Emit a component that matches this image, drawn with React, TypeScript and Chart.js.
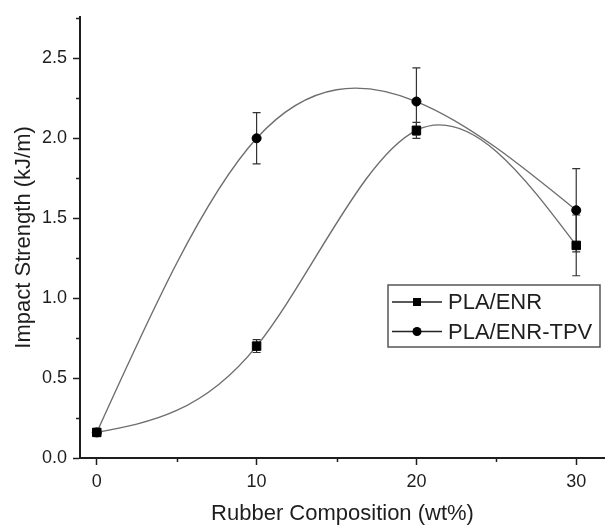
import React, { useEffect, useRef } from "react";
import { Chart, registerables } from "chart.js";

Chart.register(...registerables);

const compositions = [0, 10, 20, 30];
const enrValues = [0.16, 0.7, 2.05, 1.33];
const enrErrors = [0.02, 0.04, 0.05, 0.19];
const tpvValues = [0.16, 2.0, 2.23, 1.55];
const tpvErrors = [0.02, 0.16, 0.21, 0.26];
const seriesLabels = ["PLA/ENR", "PLA/ENR-TPV"];
const xMajorTicks = [0, 10, 20, 30];
const xMinorTicks = [5, 15, 25];
const yMajorTicks = [0, 0.5, 1.0, 1.5, 2.0, 2.5];
const yMinorTicks = [0.25, 0.75, 1.25, 1.75, 2.25, 2.75];
const xTitle = "Rubber Composition (wt%)";
const yTitle = "Impact Strength (kJ/m)";

const FONT = "'Liberation Sans', Arial, sans-serif";
const INK = "#1e1e1e";
const CURVE = "#6e6e6e";

// Slopes of the natural cubic spline through (xs, ys)
function naturalSplineSlopes(xs: number[], ys: number[]): number[] {
  const n = xs.length;
  const h: number[] = [];
  for (let i = 0; i < n - 1; i++) h.push(xs[i + 1] - xs[i]);
  const M = new Array(n).fill(0);
  if (n > 2) {
    const m = n - 2;
    const a: number[] = [], b: number[] = [], c: number[] = [], d: number[] = [];
    for (let i = 1; i <= n - 2; i++) {
      a.push(h[i - 1]);
      b.push(2 * (h[i - 1] + h[i]));
      c.push(h[i]);
      d.push(6 * ((ys[i + 1] - ys[i]) / h[i] - (ys[i] - ys[i - 1]) / h[i - 1]));
    }
    for (let i = 1; i < m; i++) {
      const w = a[i] / b[i - 1];
      b[i] -= w * c[i - 1];
      d[i] -= w * d[i - 1];
    }
    const sol = new Array(m).fill(0);
    sol[m - 1] = d[m - 1] / b[m - 1];
    for (let i = m - 2; i >= 0; i--) sol[i] = (d[i] - c[i] * sol[i + 1]) / b[i];
    for (let i = 0; i < m; i++) M[i + 1] = sol[i];
  }
  const s: number[] = [];
  for (let i = 0; i < n; i++) {
    if (i < n - 1) s.push((ys[i + 1] - ys[i]) / h[i] - (h[i] * (2 * M[i] + M[i + 1])) / 6);
    else s.push((ys[i] - ys[i - 1]) / h[i - 1] + (h[i - 1] * (M[i - 1] + 2 * M[i])) / 6);
  }
  return s;
}

const splinePlugin = {
  id: "naturalSpline",
  beforeDatasetsDraw(chart: any) {
    const xs = chart.scales.x;
    const ys = chart.scales.y;
    chart.data.datasets.forEach((ds: any, di: number) => {
      const meta = chart.getDatasetMeta(di);
      const pts = meta.data;
      const vx = ds.data.map((p: any) => p.x);
      const vy = ds.data.map((p: any) => p.y);
      const slopes = naturalSplineSlopes(vx, vy);
      const n = vx.length;
      for (let i = 0; i < n; i++) {
        const pt = pts[i];
        if (i > 0) {
          const h = vx[i] - vx[i - 1];
          pt.cp1x = xs.getPixelForValue(vx[i] - h / 3);
          pt.cp1y = ys.getPixelForValue(vy[i] - (slopes[i] * h) / 3);
        } else {
          pt.cp1x = pt.x;
          pt.cp1y = pt.y;
        }
        if (i < n - 1) {
          const h = vx[i + 1] - vx[i];
          pt.cp2x = xs.getPixelForValue(vx[i] + h / 3);
          pt.cp2y = ys.getPixelForValue(vy[i] + (slopes[i] * h) / 3);
        } else {
          pt.cp2x = pt.x;
          pt.cp2y = pt.y;
        }
      }
      if (meta.dataset) {
        meta.dataset._pointsUpdated = true;
        meta.dataset._path = undefined;
      }
    });
  },
};

const errorBarPlugin = {
  id: "errorBars",
  beforeDatasetsDraw(chart: any) {
    const ctx = chart.ctx;
    const xs = chart.scales.x;
    const ys = chart.scales.y;
    ctx.save();
    ctx.strokeStyle = "#333";
    ctx.lineWidth = 1.2;
    chart.data.datasets.forEach((ds: any) => {
      const errs: number[] = ds.errors || [];
      ds.data.forEach((p: any, i: number) => {
        const e = errs[i];
        if (!e) return;
        const px = xs.getPixelForValue(p.x);
        const pTop = ys.getPixelForValue(p.y + e);
        const pBot = ys.getPixelForValue(p.y - e);
        ctx.beginPath();
        ctx.moveTo(px, pTop);
        ctx.lineTo(px, pBot);
        ctx.moveTo(px - 4, pTop);
        ctx.lineTo(px + 4, pTop);
        ctx.moveTo(px - 4, pBot);
        ctx.lineTo(px + 4, pBot);
        ctx.stroke();
      });
    });
    ctx.restore();
  },
};

const minorTickPlugin = {
  id: "minorTicks",
  afterDraw(chart: any) {
    const ctx = chart.ctx;
    const xs = chart.scales.x;
    const ys = chart.scales.y;
    ctx.save();
    ctx.strokeStyle = INK;
    ctx.lineWidth = 1.5;
    ctx.beginPath();
    xMinorTicks.forEach((v) => {
      const px = Math.round(xs.getPixelForValue(v)) + 0.5;
      ctx.moveTo(px, xs.top);
      ctx.lineTo(px, xs.top + 4);
    });
    yMinorTicks.forEach((v) => {
      const py = Math.round(ys.getPixelForValue(v)) + 0.5;
      ctx.moveTo(ys.right, py);
      ctx.lineTo(ys.right - 4, py);
    });
    ctx.stroke();
    ctx.restore();
  },
};

const insideLegendPlugin = {
  id: "insideLegend",
  afterDraw(chart: any) {
    const ctx = chart.ctx;
    const area = chart.chartArea;
    const boxRight = area.right - 5;
    const boxLeft = boxRight - 212;
    const boxTop = 285;
    const boxH = 62;
    ctx.save();
    ctx.fillStyle = "#fff";
    ctx.fillRect(boxLeft, boxTop, boxRight - boxLeft, boxH);
    ctx.strokeStyle = "#555";
    ctx.lineWidth = 1.5;
    ctx.strokeRect(boxLeft, boxTop, boxRight - boxLeft, boxH);
    ctx.font = `22px ${FONT}`;
    ctx.textBaseline = "middle";
    ctx.textAlign = "left";
    chart.data.datasets.forEach((ds: any, i: number) => {
      const cy = boxTop + 17 + i * 29.5;
      const x0 = boxLeft + 4;
      const x1 = boxLeft + 54;
      const mx = (x0 + x1) / 2;
      ctx.strokeStyle = "#222";
      ctx.lineWidth = 1.5;
      ctx.beginPath();
      ctx.moveTo(x0, cy);
      ctx.lineTo(x1, cy);
      ctx.stroke();
      ctx.fillStyle = "#000";
      ctx.beginPath();
      if (ds.pointStyle === "rect") {
        ctx.rect(mx - 4, cy - 4, 8, 8);
      } else {
        ctx.arc(mx, cy, 4.5, 0, Math.PI * 2);
      }
      ctx.fill();
      ctx.fillStyle = INK;
      ctx.fillText(ds.label, boxLeft + 60, cy + 1);
    });
    ctx.restore();
  },
};

export default function App() {
  const canvasRef = useRef<HTMLCanvasElement | null>(null);

  useEffect(() => {
    if (!canvasRef.current) return;
    const chart = new Chart(canvasRef.current, {
      type: "line",
      data: {
        datasets: [
          {
            label: seriesLabels[0],
            data: compositions.map((x, i) => ({ x, y: enrValues[i] })),
            errors: enrErrors,
            borderColor: CURVE,
            borderWidth: 1.4,
            tension: 0.4,
            pointStyle: "rect",
            pointRadius: 6,
            pointBackgroundColor: "#000",
            pointBorderColor: "#000",
            pointBorderWidth: 1,
            fill: false,
            clip: false,
          } as any,
          {
            label: seriesLabels[1],
            data: compositions.map((x, i) => ({ x, y: tpvValues[i] })),
            errors: tpvErrors,
            borderColor: CURVE,
            borderWidth: 1.4,
            tension: 0.4,
            pointStyle: "circle",
            pointRadius: 4.5,
            pointBackgroundColor: "#000",
            pointBorderColor: "#000",
            pointBorderWidth: 1,
            fill: false,
            clip: false,
          } as any,
        ],
      },
      options: {
        animation: false,
        responsive: false,
        events: [],
        layout: { autoPadding: false, padding: { top: 15, right: 0, left: 0, bottom: 0 } },
        plugins: {
          legend: { display: false },
          tooltip: { enabled: false },
        },
        scales: {
          x: {
            type: "linear",
            position: "bottom",
            min: -1.05,
            max: 31.8,
            afterFit: (s: any) => {
              s.height = 69;
              s.paddingLeft = 0;
              s.paddingRight = 0;
            },
            afterBuildTicks: (s: any) => {
              s.ticks = xMajorTicks.map((v) => ({ value: v }));
            },
            ticks: {
              color: INK,
              font: { family: FONT, size: 18 },
              padding: 6,
              callback: (v: any) => String(v),
            },
            grid: {
              drawOnChartArea: false,
              drawTicks: true,
              tickLength: 7,
              tickColor: INK,
              tickWidth: 1.5,
            },
            border: { display: true, color: INK, width: 2 },
            title: {
              display: true,
              text: xTitle,
              color: INK,
              font: { family: FONT, size: 22 },
              padding: { top: 0, bottom: 0 },
            },
          },
          y: {
            type: "linear",
            position: "left",
            min: 0,
            max: 2.76,
            afterFit: (s: any) => {
              s.width = 80;
            },
            afterBuildTicks: (s: any) => {
              s.ticks = yMajorTicks.map((v) => ({ value: v }));
            },
            ticks: {
              color: INK,
              font: { family: FONT, size: 18 },
              padding: 6,
              callback: (v: any) => Number(v).toFixed(1),
            },
            grid: {
              drawOnChartArea: false,
              drawTicks: true,
              tickLength: 7,
              tickColor: INK,
              tickWidth: 1.5,
            },
            border: { display: true, color: INK, width: 2 },
            title: {
              display: true,
              text: yTitle,
              color: INK,
              font: { family: FONT, size: 22 },
              padding: { top: 11, bottom: 0 },
            },
          },
        },
      } as any,
      plugins: [splinePlugin, errorBarPlugin, minorTickPlugin, insideLegendPlugin],
    });
    return () => chart.destroy();
  }, []);

  return (
    <div style={{ position: "absolute", left: 0, top: 0, width: 605, height: 527, background: "#fff" }}>
      <canvas ref={canvasRef} width={605} height={527} style={{ display: "block" }} />
    </div>
  );
}
